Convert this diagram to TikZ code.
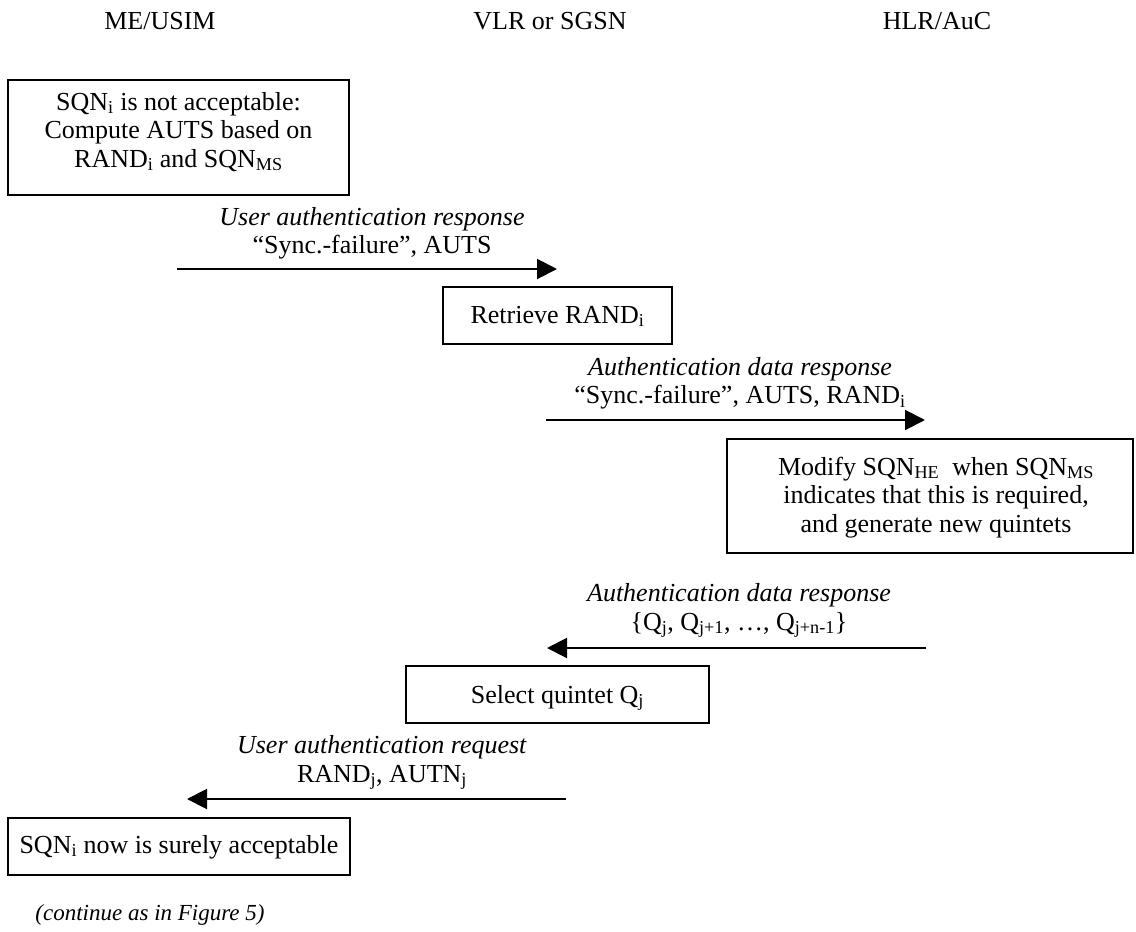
\documentclass[tikz,border=0pt]{standalone}
\usepackage{fontspec}
\setmainfont{Liberation Serif}
\usetikzlibrary{arrows.meta}
\newcommand\fs{\fontsize{26}{28.5}\selectfont}
\newcommand\mlines[1]{\begin{tabular}[t]{@{}c@{}}#1\end{tabular}}
\newcommand\sbs[1]{\textsubscript{#1}}
\begin{document}
\begin{tikzpicture}[x=1pt,y=-1pt,
  box/.style={draw, line width=2pt, inner sep=0pt, font=\fs},
  lbl/.style={inner sep=0pt, anchor=base, font=\fs},
  msg/.style={line width=2pt, -{Triangle[length=20pt,width=20pt]}}]
\useasboundingbox (0,0) rectangle (1136,932);
% headers
\node[lbl] (h1) at (160,29) {ME/USIM};
\node[lbl] (h2) at (550,29) {VLR or SGSN};
\node[lbl] (h3) at (937,29) {HLR/AuC};
% boxes
\node[box, anchor=base, minimum width=341pt, text height=30pt, text depth=85pt] (b1) at (178.5,110)
  {\mlines{SQN\sbs{i} is not acceptable:\\Compute AUTS based on\\RAND\sbs{i} and SQN\sbs{MS}}};
\node[box, anchor=base, minimum width=229pt, text height=36pt, text depth=21pt] (b2) at (557.5,323)
  {Retrieve RAND\sbs{i}};
\node[box, anchor=base, minimum width=406pt, text height=36pt, text depth=78pt] (b3) at (930,475)
  {\hspace*{12pt}\mlines{Modify SQN\sbs{HE}\ \ when SQN\sbs{MS}\\indicates that this is required,\\and generate new quintets}};
\node[box, anchor=base, minimum width=303pt, text height=37pt, text depth=20pt] (b4) at (557.5,703)
  {Select quintet Q\sbs{j}};
\node[box, anchor=base, minimum width=342pt, text height=35pt, text depth=22pt] (b5) at (179,853)
  {SQN\sbs{i} now is surely acceptable};
% message labels
\node[lbl] (l1) at (372,225) {\mlines{\textit{User authentication response}\\“Sync.-failure”, AUTS}};
\node[lbl] (l2) at (740,375) {\mlines{\textit{Authentication data response}\\“Sync.-failure”, AUTS, RAND\sbs{i}}};
\node[lbl] (l3) at (739,601.5) {\mlines{\textit{Authentication data response}\\\{Q\sbs{j}, Q\sbs{j+1}, …, Q\sbs{j+n-1}\}}};
\node[lbl] (l4) at (382,753.5) {\mlines{\textit{User authentication request}\\RAND\sbs{j}, AUTN\sbs{j}}};
% message arrows
\coordinate (a1s) at (177,269); \coordinate (a1e) at (557,269);
\coordinate (a2s) at (546,420); \coordinate (a2e) at (925,420);
\coordinate (a3s) at (926,648); \coordinate (a3e) at (547,648);
\coordinate (a4s) at (566,799); \coordinate (a4e) at (187,799);
\draw[msg] (a1s) -- (a1e);
\draw[msg] (a2s) -- (a2e);
\draw[msg] (a3s) -- (a3e);
\draw[msg] (a4s) -- (a4e);
% footer
\node[lbl, font=\fontsize{23}{27}\selectfont] (cont) at (150,920) {\textit{(continue as in Figure 5)}};
\end{tikzpicture}
\end{document}
